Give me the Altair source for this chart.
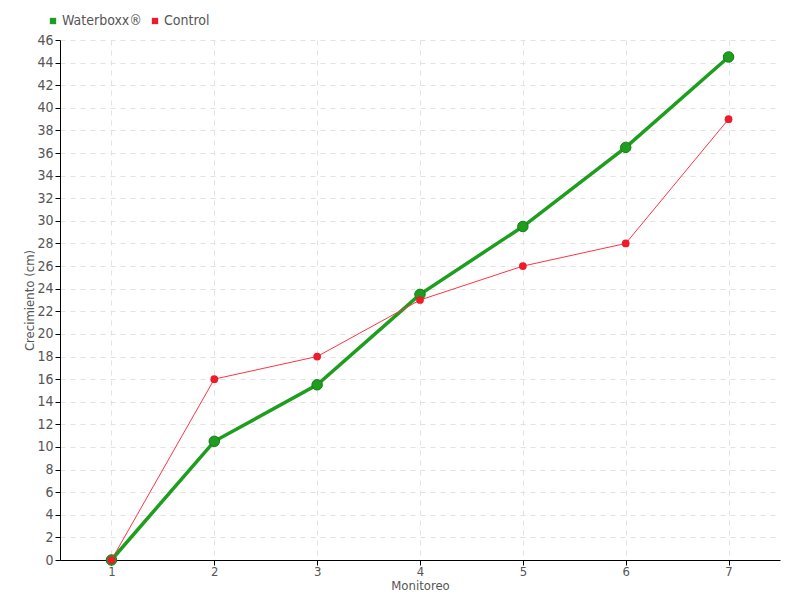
import altair as alt
import pandas as pd

monitoreo = [1, 2, 3, 4, 5, 6, 7]
waterboxx = [0, 10.5, 15.5, 23.5, 29.5, 36.5, 44.5]
control = [0, 16, 18, 23, 26, 28, 39]
series_names = ["Waterboxx®", "Control"]
series_colors = ["#1e9e1e", "#ee1c2a"]
y_ticks = list(range(0, 47, 2))

df_w = pd.DataFrame({"Monitoreo": monitoreo, "Crecimiento": waterboxx, "Serie": series_names[0]})
df_c = pd.DataFrame({"Monitoreo": monitoreo, "Crecimiento": control, "Serie": series_names[1]})

FONT = "Liberation Sans Narrow, DejaVu Sans Condensed, Roboto, sans-serif"

color = alt.Color("Serie:N", scale=alt.Scale(domain=series_names, range=series_colors),
                  legend=alt.Legend(title=None, orient="none", legendX=-14, legendY=-26,
                                    direction="horizontal", symbolType="square", symbolSize=40,
                                    labelFont=FONT, labelFontSize=14, labelColor="#555555",
                                    columnPadding=6, symbolStrokeWidth=0, labelOffset=2))

x = alt.X("Monitoreo:Q", scale=alt.Scale(domain=[0.5, 7.5], nice=False, zero=False),
          axis=alt.Axis(values=monitoreo, title="Monitoreo", titleFont=FONT, titleFontSize=13,
                        titleFontWeight="normal", titleColor="#555555", titlePadding=1,
                        labelFont=FONT, labelFontSize=13, labelColor="#555555",
                        domainColor="#000000", tickColor="#000000", tickSize=5,
                        gridColor="#e2e2e2", gridDash=[5, 5], labelPadding=0))
y = alt.Y("Crecimiento:Q", scale=alt.Scale(domain=[0, 46], nice=False),
          axis=alt.Axis(values=y_ticks, title="Crecimiento (cm)", titleFont=FONT, titleFontSize=13,
                        titleFontWeight="normal", titleColor="#555555", titlePadding=0,
                        labelFont=FONT, labelFontSize=14, labelColor="#555555",
                        domainColor="#000000", tickColor="#000000", tickSize=5,
                        gridColor="#e2e2e2", gridDash=[5, 5], labelPadding=2))

line_w = alt.Chart(df_w).mark_line(strokeWidth=3.5).encode(x=x, y=y, color=color)
pts_w = alt.Chart(df_w).mark_point(filled=True, size=110, opacity=1, stroke="#177a17",
                                   strokeWidth=1).encode(x=x, y=y, color=color)
line_c = alt.Chart(df_c).mark_line(strokeWidth=1, color="#ff3344").encode(x=x, y=y)
pts_c = alt.Chart(df_c).mark_point(filled=True, size=60, opacity=1).encode(x=x, y=y, color=color)

chart = alt.layer(line_w, pts_w, line_c, pts_c).properties(
    width=720, height=520,
    autosize=alt.AutoSizeParams(type="none"),
    padding={"left": 52, "top": 32, "right": 12, "bottom": 40},
).configure_view(stroke=None)

chart.save("out.html", embed_options={"renderer": "svg", "actions": False})
